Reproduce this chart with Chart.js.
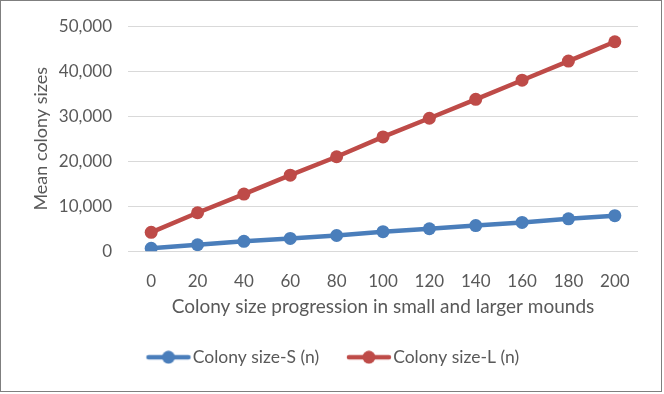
<!DOCTYPE html>
<html lang="en">
  <head>
    <meta charset="UTF-8">
    <title>Colony size progression</title>
    <script src="https://cdn.jsdelivr.net/npm/chart.js"></script>
    <style>
      html, body { margin: 0; padding: 0; background: #fff; }
      #wrap { width: 664px; height: 394px; position: relative; }
    </style>
  </head>
  <body>
    <div id="wrap">
      <canvas id="colonyChart" width="664" height="394"></canvas>
    </div>

    <script>
      // data
      const progression = ['0', '20', '40', '60', '80', '100', '120', '140', '160', '180', '200'];
      const colonySizeS = [650, 1450, 2200, 2850, 3500, 4350, 5000, 5700, 6400, 7200, 7900];
      const colonySizeL = [4200, 8550, 12700, 16900, 21000, 25400, 29550, 33750, 38000, 42250, 46550];
      const yTicks = [0, 10000, 20000, 30000, 40000, 50000];

      const blue = '#4a7ebb';
      const red = '#be4b48';
      const textColor = '#595959';
      const fontFamily = 'Lato, "Open Sans", sans-serif';

      // legend marker: a short line with a dot in the middle, like the Excel one
      // (drawn off-centre in a wider canvas so it sits right next to its text)
      function legendMarker(color) {
        const c = document.createElement('canvas');
        c.width = 60;
        c.height = 14;
        const g = c.getContext('2d');
        g.strokeStyle = color;
        g.lineWidth = 4.5;
        g.lineCap = 'round';
        g.beginPath();
        g.moveTo(12, 7);
        g.lineTo(52, 7);
        g.stroke();
        g.fillStyle = color;
        g.beginPath();
        g.arc(32, 7, 6.5, 0, Math.PI * 2);
        g.fill();
        return c;
      }

      // white page with a thin frame round it
      const frame = {
        id: 'frame',
        beforeDraw(chart) {
          const ctx = chart.ctx;
          ctx.save();
          ctx.fillStyle = '#fff';
          ctx.fillRect(0, 0, chart.width, chart.height);
          ctx.strokeStyle = '#7f7f7f';
          ctx.lineWidth = 1;
          ctx.strokeRect(0.5, 0.5, 661, 391);
          ctx.restore();
        }
      };

      const ctx = document.getElementById('colonyChart').getContext('2d');
      new Chart(ctx, {
        type: 'line',
        data: {
          labels: progression,
          datasets: [{
            label: 'Colony size-S (n)',
            data: colonySizeS,
            borderColor: blue,
            backgroundColor: blue,
            borderWidth: 4.5,
            pointRadius: 6.5,
            pointHoverRadius: 6.5,
            pointBorderWidth: 0,
            pointStyle: 'circle',
            tension: 0
          }, {
            label: 'Colony size-L (n)',
            data: colonySizeL,
            borderColor: red,
            backgroundColor: red,
            borderWidth: 4.5,
            pointRadius: 6.5,
            pointHoverRadius: 6.5,
            pointBorderWidth: 0,
            pointStyle: 'circle',
            tension: 0
          }]
        },
        options: {
          responsive: false,
          animation: false,
          layout: {
            padding: { left: 30, right: 26, top: 25, bottom: 18 }
          },
          plugins: {
            tooltip: { enabled: false },
            legend: {
              position: 'bottom',
              labels: {
                usePointStyle: true,
                pointStyleWidth: 35,
                padding: 30.25,
                color: textColor,
                font: { family: fontFamily, size: 17.5 },
                generateLabels(chart) {
                  return chart.data.datasets.map((ds, i) => ({
                    text: ds.label,
                    pointStyle: legendMarker(ds.borderColor),
                    fontColor: textColor,
                    hidden: false,
                    datasetIndex: i,
                    lineWidth: 0
                  }));
                }
              }
            }
          },
          scales: {
            x: {
              offset: true,
              grid: { display: false, drawTicks: false },
              border: { display: false },
              ticks: {
                color: textColor,
                padding: 20,
                font: { family: fontFamily, size: 17 }
              },
              title: {
                display: true,
                text: 'Colony size progression in small and larger mounds',
                color: textColor,
                padding: { top: 4, bottom: 0 },
                font: { family: fontFamily, size: 19 }
              },
              afterFit(scale) { scale.height = 67; }
            },
            y: {
              min: 0,
              max: 50000,
              afterBuildTicks(scale) {
                scale.ticks = yTicks.map(v => ({ value: v }));
              },
              grid: { color: '#d9d9d9', lineWidth: 1, drawTicks: false },
              border: { display: false },
              ticks: {
                color: textColor,
                padding: 16,
                font: { family: fontFamily, size: 17 },
                callback: v => v.toLocaleString('en-US')
              },
              title: {
                display: true,
                text: 'Mean colony sizes',
                color: textColor,
                padding: { top: 0, bottom: 0 },
                font: { family: fontFamily, size: 18 }
              },
              afterFit(scale) { scale.width = 98; }
            }
          }
        },
        plugins: [frame]
      });
    </script>
  </body>
</html>
